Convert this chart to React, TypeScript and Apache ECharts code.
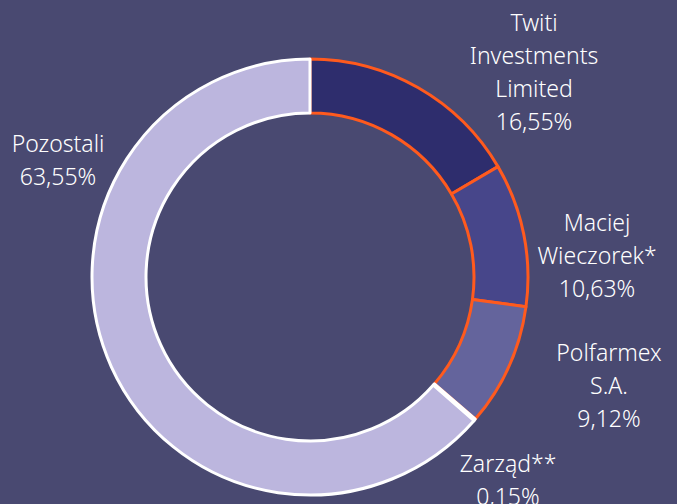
import React, { useEffect, useRef } from "react";
import * as echarts from "echarts";

const categories = ["Twiti\nInvestments\nLimited", "Maciej\nWieczorek*", "Polfarmex\nS.A.", "Zarząd**", "Pozostali"];
const values = [16.55, 10.63, 9.12, 0.15, 63.55];
const valueLabels = ["16,55%", "10,63%", "9,12%", "0,15%", "63,55%"];
const colors = ["#2e2d6d", "#47468a", "#64649c", "#bcb6de", "#bcb6de"];
const borders = ["#ff5a1e", "#ff5a1e", "#ff5a1e", "#ffffff", "#ffffff"];

const labelPos: [number, number][] = [
  [534, 71],
  [597, 255],
  [609, 385],
  [508, 479],
  [58, 159],
];

export default function App() {
  const ref = useRef<HTMLDivElement>(null);
  useEffect(() => {
    document.body.style.margin = "0";
    const chart = echarts.init(ref.current!, null, { renderer: "svg" });
    chart.setOption({
      animation: false,
      backgroundColor: "#494971",
      series: [
        {
          type: "pie",
          center: [310, 277],
          radius: [164, 218],
          startAngle: 90,
          clockwise: true,
          avoidLabelOverlap: false,
          labelLine: { show: false },
          label: {
            show: true,
            position: "outside",
            color: "#ffffff",
            fontFamily: "Noto Sans",
            fontWeight: 300,
            fontSize: 23,
            lineHeight: 33,
            align: "center",
            formatter: (p: any) => `${categories[p.dataIndex]}\n${valueLabels[p.dataIndex]}`,
          },
          labelLayout: (p: any) => ({
            x: labelPos[p.dataIndex][0],
            y: labelPos[p.dataIndex][1],
            align: "center",
            verticalAlign: "middle",
          }),
          data: values.map((v, i) => ({
            value: v,
            name: categories[i],
            itemStyle: { color: colors[i], borderColor: borders[i], borderWidth: 3 },
          })),
        },
      ],
    });
    return () => chart.dispose();
  }, []);
  return <div ref={ref} style={{ position: "fixed", left: 0, top: 0, width: 677, height: 504 }} />;
}
